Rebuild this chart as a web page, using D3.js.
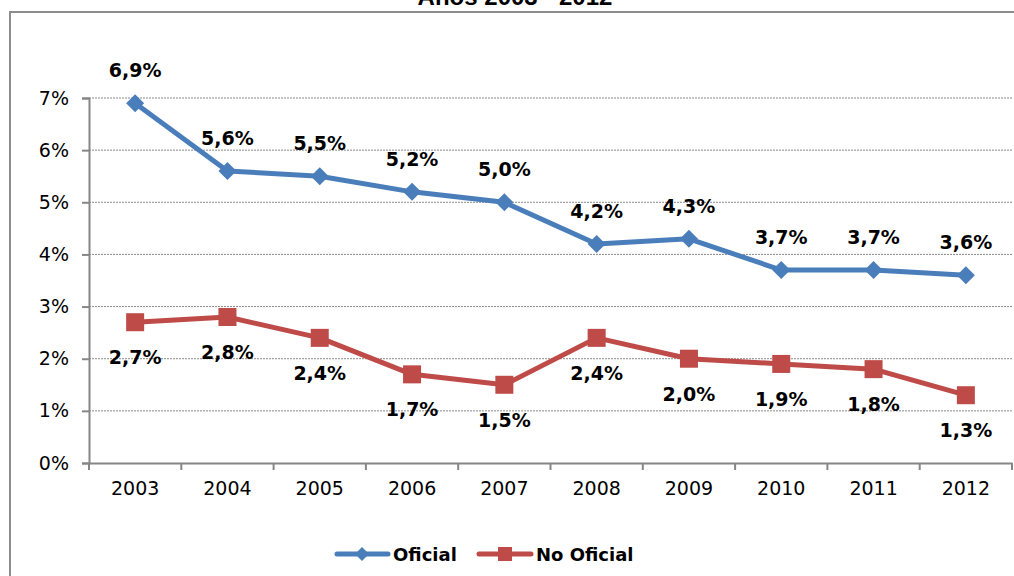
<!doctype html>
<html>
<head>
    <meta charset="utf-8">
    <title>Oficial / No Oficial</title>
    <script src="https://d3js.org/d3.v7.min.js"></script>
    <style type="text/css">
        html, body { margin: 0; background: #fff; }
        svg { display: block; }
        .tick text { font-family: "DejaVu Sans", sans-serif; font-size: 19px; fill: #000; }
        .lbl { font-family: "DejaVu Sans", sans-serif; font-size: 19px; font-weight: bold; fill: #000; }
    </style>
</head>
<body>
<div id="chart"></div>
<script type="text/javascript">
    var years = ["2003", "2004", "2005", "2006", "2007", "2008", "2009", "2010", "2011", "2012"];
    var oficial = [6.9, 5.6, 5.5, 5.2, 5.0, 4.2, 4.3, 3.7, 3.7, 3.6];
    var noOficial = [2.7, 2.8, 2.4, 1.7, 1.5, 2.4, 2.0, 1.9, 1.8, 1.3];
    var yTicks = [0, 1, 2, 3, 4, 5, 6, 7];

    var W = 1014, H = 576;
    var svg = d3.select("#chart").append("svg").attr("width", W).attr("height", H);

    // outer frame (top/left edges visible, right side runs off the picture)
    svg.append("rect").attr("x", 10).attr("y", 12).attr("width", 1020).attr("height", 600)
        .attr("fill", "none").attr("stroke", "#8c8c8c").attr("stroke-width", 2);

    // title, cut at the top edge as in the source
    svg.append("text").attr("x", 515).attr("y", 5).attr("text-anchor", "middle")
        .style("font-family", "Liberation Sans, Arial, sans-serif").style("font-weight", "bold").style("font-size", "24px")
        .text("Años 2003 - 2012");

    var x = d3.scaleBand().domain(years).range([89, 1012]);
    var y = d3.scaleLinear().domain([0, 7]).range([463, 98]);

    // grid
    svg.append("g").selectAll("line").data(yTicks.slice(1)).enter().append("line")
        .attr("x1", 89).attr("x2", 1012)
        .attr("y1", function(d) { return y(d); }).attr("y2", function(d) { return y(d); })
        .attr("stroke", "#8a8a8a").attr("stroke-width", 1).attr("stroke-dasharray", "2,1");

    var yAxis = svg.append("g").attr("transform", "translate(89,0)")
        .call(d3.axisLeft(y).tickValues(yTicks).tickSize(7).tickPadding(13)
            .tickFormat(function(d) { return d + "%"; }));
    yAxis.select(".domain").attr("stroke", "#868686").attr("stroke-width", 2);
    yAxis.selectAll(".tick line").attr("stroke", "#868686").attr("stroke-width", 2);

    var xAxis = svg.append("g").attr("transform", "translate(0,463)")
        .call(d3.axisBottom(x).tickSize(0).tickPadding(19));
    xAxis.select(".domain").attr("stroke", "#868686").attr("stroke-width", 2);
    // ticks at category boundaries
    xAxis.selectAll(".bnd").data(d3.range(years.length + 1)).enter().append("line")
        .attr("x1", function(i) { return 89 + i * x.step(); })
        .attr("x2", function(i) { return 89 + i * x.step(); })
        .attr("y1", 0).attr("y2", 7).attr("stroke", "#868686").attr("stroke-width", 2);

    function cx(d, i) { return x(years[i]) + x.bandwidth() / 2; }

    var line = d3.line().x(cx).y(function(d) { return y(d); });

    var blue = "#4a7ebb", red = "#be4b48";

    svg.append("path").datum(oficial).attr("d", line).attr("fill", "none")
        .attr("stroke", blue).attr("stroke-width", 5).attr("stroke-linejoin", "round");
    svg.append("path").datum(noOficial).attr("d", line).attr("fill", "none")
        .attr("stroke", red).attr("stroke-width", 5).attr("stroke-linejoin", "round");

    svg.append("g").selectAll("path").data(oficial).enter().append("path")
        .attr("d", "M0,-9L9,0L0,9L-9,0Z").attr("fill", blue)
        .attr("transform", function(d, i) { return "translate(" + cx(d, i) + "," + y(d) + ")"; });
    svg.append("g").selectAll("rect").data(noOficial).enter().append("rect")
        .attr("x", function(d, i) { return cx(d, i) - 9; })
        .attr("y", function(d) { return y(d) - 9; })
        .attr("width", 18).attr("height", 18).attr("fill", red);

    function fmt(d) { return d.toFixed(1).replace(".", ",") + "%"; }

    svg.append("g").selectAll("text").data(oficial).enter().append("text").attr("class", "lbl")
        .attr("x", cx).attr("y", function(d) { return y(d) - 26; })
        .attr("text-anchor", "middle").text(fmt);
    svg.append("g").selectAll("text").data(noOficial).enter().append("text").attr("class", "lbl")
        .attr("x", cx).attr("y", function(d) { return y(d) + 42; })
        .attr("text-anchor", "middle").text(fmt);

    // legend
    var leg = svg.append("g").attr("transform", "translate(0,554)");
    leg.append("line").attr("x1", 337).attr("x2", 388).attr("stroke", blue).attr("stroke-width", 5).attr("stroke-linecap", "round");
    leg.append("path").attr("d", "M0,-7L7,0L0,7L-7,0Z").attr("fill", blue).attr("transform", "translate(362,0)");
    leg.append("text").attr("class", "lbl").attr("x", 393).attr("y", 7).style("font-size", "18px").text("Oficial");
    leg.append("line").attr("x1", 479).attr("x2", 531).attr("stroke", red).attr("stroke-width", 5).attr("stroke-linecap", "round");
    leg.append("rect").attr("x", 498).attr("y", -7).attr("width", 14).attr("height", 14).attr("fill", red);
    leg.append("text").attr("class", "lbl").attr("x", 536).attr("y", 7).style("font-size", "18px").text("No Oficial");
</script>
</body>
</html>
